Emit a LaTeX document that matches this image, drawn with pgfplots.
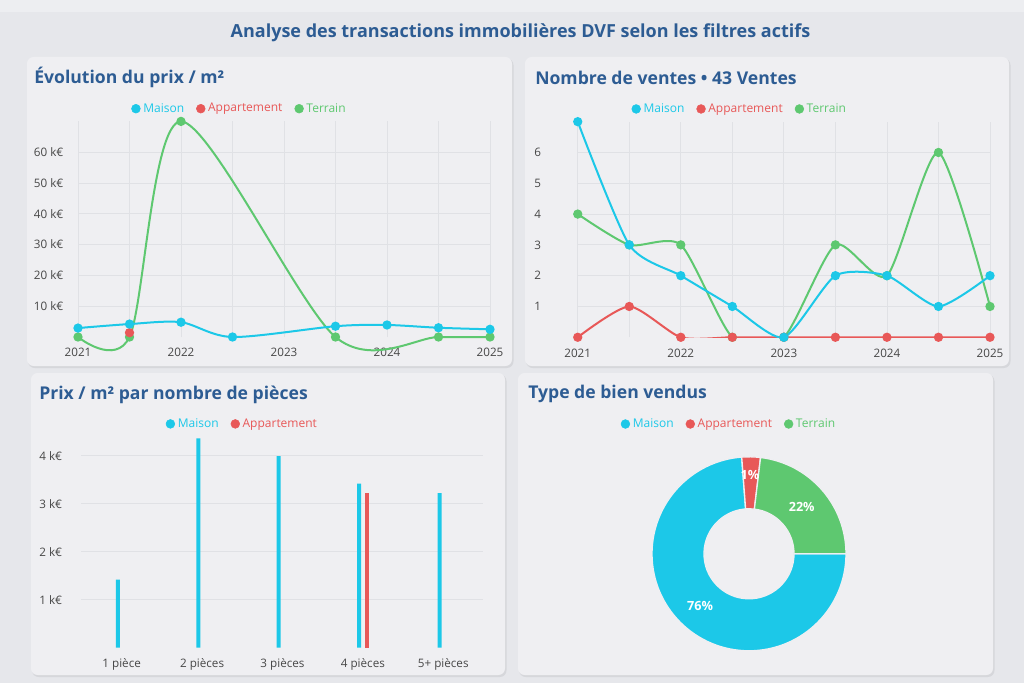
\documentclass[border=0pt]{standalone}
\usepackage{pgfplots}
\pgfplotsset{compat=1.18}
\usepackage{pgfplotstable}
\usetikzlibrary{calc}
\usepackage{fontspec}
\setmainfont{Open Sans}

\definecolor{bgc}{HTML}{E6E7EB}
\definecolor{cardc}{HTML}{EFEFF2}
\definecolor{cardb}{HTML}{D6D7DB}
\definecolor{titc}{HTML}{2D5C93}
\definecolor{tickc}{HTML}{474747}
\definecolor{gridc}{HTML}{E0E1E5}
\definecolor{cMaison}{HTML}{1CC8E8}
\definecolor{cAppart}{HTML}{E85858}
\definecolor{cTerrain}{HTML}{5EC870}

% ---------- data ----------
\pgfplotstableread{
year v
2021   2.9
2021.5 4.2
2022   4.8
2022.5 0
2023.5 3.5
2024   3.9
2024.5 3.0
2025   2.5
}\prixMaison
\pgfplotstableread{
year v
2021.5 1.4
}\prixAppart
\pgfplotstableread{
year v
2021   0
2021.5 0
2022   70
2023.5 0
2024.5 0
2025   0
}\prixTerrain
\pgfplotstableread{
year maison appart terrain
2021   7 0 4
2021.5 3 1 3
2022   2 0 3
2022.5 1 0 0
2023   0 0 0
2023.5 2 0 3
2024   2 0 2
2024.5 1 0 6
2025   2 0 1
}\ventes
\pgfplotstableread{
i maison
0 1.42
1 4.36
2 3.99
3 3.42
4 3.22
}\piecesMaison
\pgfplotstableread{
i appart
3 3.23
}\piecesAppart
% donut shares (percent of the circle)
\def\shMaison{73.8}
\def\shAppart{3.1}
\def\shTerrain{23.1}

\newcommand{\tfont}{\fontsize{8.75}{10}\selectfont}
\newcommand{\lfont}{\fontsize{9}{10}\selectfont}
\pgfplotsset{
  dash/.style={
    axis line style={draw=none},
    major tick length=0pt, minor tick length=0pt,
    tick style={draw=none},
    ticklabel style={font=\tfont, text=tickc},
    grid style={gridc, line width=0.6pt},
    minor grid style={gridc, line width=0.6pt},
    legend columns=-1,
    legend style={draw=none, fill=none, inner sep=0pt, font=\lfont,
      /tikz/every even column/.append style={column sep=7pt}},
  },
  lgM/.style={legend image code/.code={\fill[cMaison] (3.3pt,0pt) circle (3.3pt);}},
  lgA/.style={legend image code/.code={\fill[cAppart] (3.3pt,0pt) circle (3.3pt);}},
  lgT/.style={legend image code/.code={\fill[cTerrain] (3.3pt,0pt) circle (3.3pt);}},
  ln/.style={line width=1.5pt, smooth, tension=0.5, mark=*, mark size=2.7pt, mark options={solid}, color=#1},
}
\newcommand{\donutpart}[3]{%
  \filldraw[fill=#1, draw=cardc, line width=1pt]
    ($(axis cs:0,0)+(#2:72.75pt)$) arc[start angle=#2, end angle=#3, radius=72.75pt]
    -- ($(axis cs:0,0)+(#3:33.75pt)$) arc[start angle=#3, end angle=#2, radius=33.75pt] -- cycle;}

\begin{document}
\begin{tikzpicture}
\path[use as bounding box] (0,0) rectangle (768pt,512.25pt);
\begin{scope}[x=0.75pt, y=-0.75pt, yshift=512.25pt]
  \fill[bgc] (0,0) rectangle (1024,683);
  \fill[bgc!70!white] (0,0) rectangle (1024,12);
  % cards
  \foreach \a/\b/\c/\d in {27/57/512/366, 525/57/1009/366, 31/373/505/675, 518/373/993/675}{
    \fill[cardb, rounded corners=5] (\a+1,\b+1.5) rectangle (\c+1.5,\d+2);
    \fill[cardc, rounded corners=5] (\a,\b) rectangle (\c,\d);
  }
  % titles
  \node[text=titc, font=\bfseries\fontsize{13.5}{15}\selectfont] at (520.5,32.5) {Analyse des transactions immobilières DVF selon les filtres actifs};
  \node[anchor=west, inner sep=0pt, text=titc, font=\bfseries\fontsize{13.2}{15}\selectfont] at (34,77) {Évolution du prix / m²};
  \node[anchor=west, inner sep=0pt, text=titc, font=\bfseries\fontsize{13.2}{15}\selectfont] at (535,78) {Nombre de ventes • 43 Ventes};
  \node[anchor=west, inner sep=0pt, text=titc, font=\bfseries\fontsize{13.2}{15}\selectfont] at (39,395) {Prix / m² par nombre de pièces};
  \node[anchor=west, inner sep=0pt, text=titc, font=\bfseries\fontsize{13.2}{15}\selectfont] at (528,394) {Type de bien vendus};
\end{scope}

% ---------- chart 1 : prix / m2 ----------
\begin{axis}[dash,
  at={(58.5pt,259.5pt)}, anchor=south west,
  scale only axis, width=309pt, height=161.7pt,
  xmin=2021, xmax=2025, ymin=0, ymax=70, clip=false,
  xtick={2021,2022,2023,2024,2025},
  xticklabels={2021,2022,2023,2024,2025},
  minor xtick={2021.5,2022.5,2023.5,2024.5},
  xmajorgrids, xminorgrids, ymajorgrids,
  ytick={10,20,30,40,50,60},
  yticklabels={10 k€,20 k€,30 k€,40 k€,50 k€,60 k€},
  xticklabel style={yshift=-5pt},
  yticklabel style={xshift=-7.5pt},
  legend style={at={(0.1286,1.059)}, anchor=west},
]
\addlegendimage{lgM}\addlegendentry{\textcolor{cMaison}{Maison}}
\addlegendimage{lgA}\addlegendentry{\textcolor{cAppart}{Appartement}}
\addlegendimage{lgT}\addlegendentry{\textcolor{cTerrain}{Terrain}}
\addplot[ln=cTerrain, forget plot] table[x=year,y=v]{\prixTerrain};
\addplot[ln=cAppart, forget plot] table[x=year,y=v]{\prixAppart};
\addplot[ln=cMaison, forget plot] table[x=year,y=v]{\prixMaison};
\end{axis}

% ---------- chart 2 : nombre de ventes ----------
\begin{axis}[dash,
  at={(433.3pt,259.3pt)}, anchor=south west,
  scale only axis, width=309.2pt, height=161.7pt,
  xmin=2021, xmax=2025, ymin=0, ymax=7,
  xtick={2021,2022,2023,2024,2025},
  xticklabels={2021,2022,2023,2024,2025},
  minor xtick={2021.5,2022.5,2023.5,2024.5},
  xmajorgrids, xminorgrids, ymajorgrids,
  ytick={1,2,3,4,5,6},
  yticklabels={1,2,3,4,5,6},
  xticklabel style={yshift=-5pt},
  yticklabel style={xshift=-24pt},
  legend style={at={(0.1298,1.059)}, anchor=west},
]
\addlegendimage{lgM}\addlegendentry{\textcolor{cMaison}{Maison}}
\addlegendimage{lgA}\addlegendentry{\textcolor{cAppart}{Appartement}}
\addlegendimage{lgT}\addlegendentry{\textcolor{cTerrain}{Terrain}}
\addplot[ln=cTerrain, tension=0.4, forget plot] table[x=year,y=terrain]{\ventes};
\addplot[ln=cAppart, tension=0.4, forget plot] table[x=year,y=appart]{\ventes};
\addplot[ln=cMaison, tension=0.4, forget plot] table[x=year,y=maison]{\ventes};
\end{axis}

% ---------- chart 3 : prix par pieces ----------
\begin{axis}[dash,
  at={(61.1pt,26.5pt)}, anchor=south west,
  scale only axis, width=301.5pt, height=162pt,
  xmin=-0.5, xmax=4.5, ymin=0, ymax=4.5,
  ybar, bar width=3pt,
  xtick={0,1,2,3,4},
  xticklabels={1 pièce,2 pièces,3 pièces,4 pièces,5+ pièces},
  ytick={1,2,3,4},
  yticklabels={1 k€,2 k€,3 k€,4 k€},
  ymajorgrids,
  xticklabel style={yshift=-5pt},
  yticklabel style={xshift=-11pt},
  legend style={at={(0.209,1.036)}, anchor=west},
]
\addlegendimage{lgM}\addlegendentry{\textcolor{cMaison}{Maison}}
\addlegendimage{lgA}\addlegendentry{\textcolor{cAppart}{Appartement}}
\addplot[fill=cMaison, draw=none, bar shift=-2.8pt, forget plot] table[x=i,y=maison]{\piecesMaison};
\addplot[fill=cAppart, draw=none, bar shift=2.8pt, forget plot] table[x=i,y=appart]{\piecesAppart};
\end{axis}

% ---------- chart 4 : donut ----------
\pgfmathsetmacro\aA{-\shMaison*3.6}
\pgfmathsetmacro\aB{\aA-\shAppart*3.6}
\pgfmathsetmacro\aC{\aB-\shTerrain*3.6}
\begin{axis}[dash, hide axis,
  at={(561.75pt,96.9pt)}, anchor=center,
  x=0.75pt, y=0.75pt,
  xmin=-100, xmax=100, ymin=-100, ymax=100, clip=false,
  legend style={at={(-0.1425,1.149)}, anchor=west},
]
\addlegendimage{lgM}\addlegendentry{\textcolor{cMaison}{Maison}}
\addlegendimage{lgA}\addlegendentry{\textcolor{cAppart}{Appartement}}
\addlegendimage{lgT}\addlegendentry{\textcolor{cTerrain}{Terrain}}
\donutpart{cMaison}{0}{\aA}
\donutpart{cAppart}{\aA}{\aB}
\donutpart{cTerrain}{\aB}{\aC}
\node[text=white, font=\bfseries\fontsize{9.5}{11}\selectfont] at (axis cs:-49,-52) {76\%};
\node[text=white, font=\bfseries\fontsize{9.5}{11}\selectfont] at (axis cs:52.7,47.1) {22\%};
\node[text=white, font=\bfseries\fontsize{9.5}{11}\selectfont] at (axis cs:1,78.8) {1\%};
\end{axis}
\end{tikzpicture}
\end{document}
